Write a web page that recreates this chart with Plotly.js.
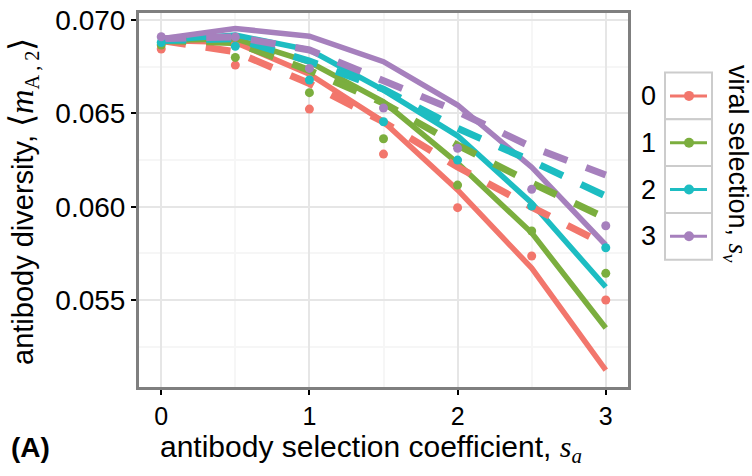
<!DOCTYPE html>
<html>
<head>
<meta charset="utf-8">
<script src="https://cdn.plot.ly/plotly-3.0.1.min.js"></script>
<style>html,body{margin:0;padding:0;background:#fff;}#chart{width:752px;height:476px;}</style>
</head>
<body>
<div id="chart"></div>
<script>
// ---- data ----
const sa = [0, 0.5, 1, 1.5, 2, 2.5, 3];
const svLevels = ['0', '1', '2', '3'];
const svColors = ['#F2766C', '#7BAE3E', '#1DBDC2', '#A680BD'];

// solid lines (theory)
const solid0 = [0.0689, 0.0688, 0.0671, 0.06455, 0.0609, 0.05671, 0.05125];
const solid1 = [0.0689, 0.0690, 0.06775, 0.06562, 0.06234, 0.0586, 0.0535];
const solid2 = [0.0689, 0.0692, 0.0684, 0.06625, 0.0638, 0.0602, 0.0557];
const solid3 = [0.0690, 0.06955, 0.06914, 0.06777, 0.06545, 0.06212, 0.05795];

// dashed lines (approximation)
const dashed0 = [0.0689, 0.0683, 0.0666, 0.06454, 0.06213, 0.05998, 0.05795];
const dashed1 = [0.0689, 0.0688, 0.0673, 0.06555, 0.0633, 0.06127, 0.05939];
const dashed2 = [0.0689, 0.0690, 0.0678, 0.0663, 0.0642, 0.06245, 0.06057];
const dashed3 = [0.0690, 0.0691, 0.0684, 0.0668, 0.0651, 0.0632, 0.0617];

// simulation points
const points0 = [0.06845, 0.06759, 0.06523, 0.06282, 0.05995, 0.05736, 0.0550];
const points1 = [0.06866, 0.0680, 0.06611, 0.06364, 0.06116, 0.0587, 0.05643];
const points2 = [0.0688, 0.0686, 0.06679, 0.06455, 0.0625, 0.06004, 0.0578];
const points3 = [0.06911, 0.0691, 0.06741, 0.06529, 0.06313, 0.06093, 0.05898];

const xTicks = [0, 1, 2, 3];
const xTickText = ['0', '1', '2', '3'];
const yTicks = [0.055, 0.060, 0.065, 0.070];
const yTickText = ['0.055', '0.060', '0.065', '0.070'];

// ---- build ----
const solids = [solid0, solid1, solid2, solid3];
const dashes = [dashed0, dashed1, dashed2, dashed3];
const pts = [points0, points1, points2, points3];
const traces = [];
for (let i = 0; i < 4; i++) {
  traces.push({x: sa, y: solids[i], mode: 'lines', type: 'scatter',
    line: {color: svColors[i], width: 5.5}, showlegend: false, hoverinfo: 'skip'});
}
for (let i = 0; i < 4; i++) {
  traces.push({x: sa, y: dashes[i], mode: 'lines', type: 'scatter',
    line: {color: svColors[i], width: 7, dash: '25px,20px'}, showlegend: false, hoverinfo: 'skip'});
}
for (let i = 0; i < 4; i++) {
  traces.push({x: sa, y: pts[i], mode: 'markers', type: 'scatter',
    marker: {color: svColors[i], size: 9}, showlegend: false, hoverinfo: 'skip'});
}

// plot area pixel geometry
const W = 752, H = 476, L = 139, R = 628, T = 13, B = 387;
const px2x = p => (p - L) / (R - L);
const py2y = p => (B - p) / (B - T);

const font = 'Liberation Sans, Arial, Helvetica, sans-serif';
const serif = 'Liberation Serif, Times New Roman, serif';

const annotations = [
  {xref: 'paper', yref: 'paper', x: px2x(371), y: py2y(449), xanchor: 'center', yanchor: 'middle', showarrow: false,
   text: 'antibody selection coefficient, <span style="font-family:' + serif + '"><i>s</i></span><sub><span style="font-family:' + serif + '"><i>a</i></span></sub>',
   font: {family: font, size: 30, color: '#000'}},
  {xref: 'paper', yref: 'paper', x: px2x(22), y: py2y(202), xanchor: 'center', yanchor: 'middle', showarrow: false, textangle: -90,
   text: 'antibody diversity, <span style="font-size:34px">⟨</span><span style="font-family:' + serif + ';font-size:34px"><i>m</i></span><sub><span style="font-family:' + serif + '">A , 2</span></sub><span style="font-size:34px">⟩</span>',
   font: {family: font, size: 29, color: '#000'}},
  {xref: 'paper', yref: 'paper', x: px2x(30), y: py2y(447), xanchor: 'center', yanchor: 'middle', showarrow: false,
   text: '<b>(A)</b>', font: {family: font, size: 28, color: '#000'}},
  {xref: 'paper', yref: 'paper', x: px2x(736), y: py2y(164), xanchor: 'center', yanchor: 'middle', showarrow: false, textangle: 90,
   text: 'viral selection, <span style="font-family:' + serif + '"><i>s</i></span><sub><span style="font-family:' + serif + '"><i>v</i></span></sub>',
   font: {family: font, size: 27, color: '#000'}}
];

const shapes = [];
const boxTop = 72.5, boxH = 46.8, boxL = 665, boxR = 712;
for (let i = 0; i < 4; i++) {
  const t = boxTop + i * boxH, b = t + boxH, c = (t + b) / 2;
  shapes.push({type: 'rect', xref: 'paper', yref: 'paper', x0: px2x(boxL), x1: px2x(boxR), y0: py2y(b), y1: py2y(t),
    line: {color: '#cccccc', width: 2}, fillcolor: '#ffffff'});
  shapes.push({type: 'line', xref: 'paper', yref: 'paper', x0: px2x(670), x1: px2x(707), y0: py2y(c), y1: py2y(c),
    line: {color: svColors[i], width: 3}});
  shapes.push({type: 'circle', xref: 'paper', yref: 'paper', x0: px2x(684), x1: px2x(694), y0: py2y(c + 5), y1: py2y(c - 5),
    line: {width: 0}, fillcolor: svColors[i]});
  annotations.push({xref: 'paper', yref: 'paper', x: px2x(648), y: py2y(c), xanchor: 'center', yanchor: 'middle', showarrow: false,
    text: svLevels[i], font: {family: font, size: 27, color: '#000'}});
}

const layout = {
  width: W, height: H,
  margin: {l: L, r: W - R, t: T, b: H - B, pad: 0},
  paper_bgcolor: '#ffffff', plot_bgcolor: '#ffffff',
  font: {family: font, color: '#000'},
  xaxis: {range: [-0.15, 3.15], tickvals: xTicks, ticktext: xTickText, ticks: 'outside', ticklen: 5, tickwidth: 2, tickcolor: '#000',
    tickfont: {family: font, size: 25, color: '#000'},
    showline: true, mirror: true, linecolor: '#7f7f7f', linewidth: 3,
    showgrid: true, gridcolor: '#e6e6e6', gridwidth: 2, zeroline: false,
    minor: {tickvals: [0.5, 1.5, 2.5], showgrid: true, gridcolor: '#f6f6f6', gridwidth: 2, ticks: ''}},
  yaxis: {range: [0.05034, 0.07038], tickvals: yTicks, ticktext: yTickText, ticks: 'outside', ticklen: 5, tickwidth: 2, tickcolor: '#000',
    tickfont: {family: font, size: 28, color: '#000'},
    showline: true, mirror: true, linecolor: '#7f7f7f', linewidth: 3,
    showgrid: true, gridcolor: '#e6e6e6', gridwidth: 2, zeroline: false,
    minor: {tickvals: [0.0525, 0.0575, 0.0625, 0.0675], showgrid: true, gridcolor: '#f6f6f6', gridwidth: 2, ticks: ''}},
  annotations: annotations,
  shapes: shapes,
  showlegend: false
};

Plotly.newPlot('chart', traces, layout, {displayModeBar: false, staticPlot: true});
</script>
</body>
</html>
